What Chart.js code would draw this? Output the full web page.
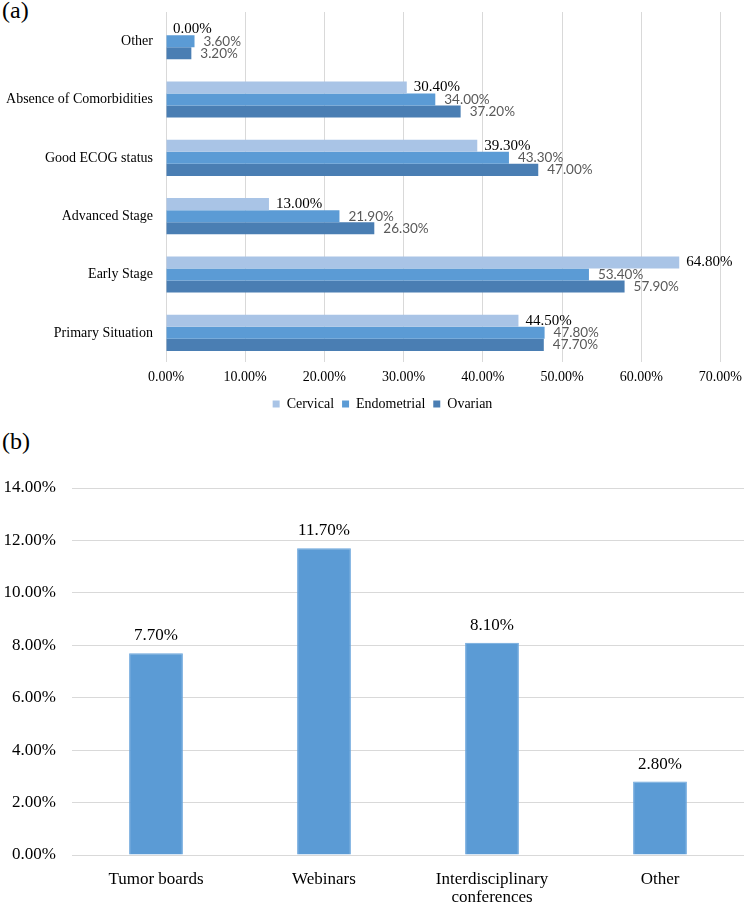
<!DOCTYPE html>
<html>
<head>
<meta charset="utf-8">
<script src="https://cdn.jsdelivr.net/npm/chart.js@4"></script>
<style>
  html, body { margin: 0; padding: 0; background: #fff; }
  body { width: 749px; height: 906px; position: relative; overflow: hidden; }
  .panel-tag { position: absolute; left: 2px; font-family: "Liberation Serif", "Times New Roman", serif; font-size: 24px; color: #000; }
  #boxA { position: absolute; left: 0; top: 0; width: 749px; height: 425px; }
  #boxB { position: absolute; left: 0; top: 430px; width: 749px; height: 476px; }
</style>
</head>
<body>
<div class="panel-tag" style="top:-3px">(a)</div>
<div class="panel-tag" style="top:428px">(b)</div>
<div id="boxA"><canvas id="chartA"></canvas></div>
<div id="boxB"><canvas id="chartB"></canvas></div>
<script>
// (a) 선택 기준 - 암종별 비율
const criteria = ['Other', 'Absence of Comorbidities', 'Good ECOG status', 'Advanced Stage', 'Early Stage', 'Primary Situation'];
const cervical = [0.0, 30.4, 39.3, 13.0, 64.8, 44.5];
const endometrial = [3.6, 34.0, 43.3, 21.9, 53.4, 47.8];
const ovarian = [3.2, 37.2, 47.0, 26.3, 57.9, 47.7];
const axisTicksA = [0, 10, 20, 30, 40, 50, 60, 70];

// (b) 교육 형태
const formats = ['Tumor boards', 'Webinars', ['Interdisciplinary', 'conferences'], 'Other'];
const formatValues = [7.7, 11.7, 8.1, 2.8];
const axisTicksB = [0, 2, 4, 6, 8, 10, 12, 14];

const serif = '"Liberation Serif", "Times New Roman", serif';
const sans = 'Lato, "Open Sans", sans-serif';
const gridColor = '#d9d9d9';

const pct = v => Number(v).toFixed(2) + '%';

// 막대 끝에 값 표시 (가로 막대)
const hLabels = {
    id: 'hLabels',
    afterDatasetsDraw(chart) {
        const ctx = chart.ctx;
        ctx.save();
        ctx.textBaseline = 'middle';
        ctx.textAlign = 'left';
        chart.data.datasets.forEach((ds, i) => {
            const meta = chart.getDatasetMeta(i);
            meta.data.forEach((bar, j) => {
                ctx.font = ds.labelFont;
                ctx.fillStyle = ds.labelColor;
                ctx.fillText(pct(ds.data[j]), bar.x + ds.labelGap, bar.y);
            });
        });
        ctx.restore();
    }
};

// 범례를 조금 오른쪽으로
const legendShift = {
    id: 'legendShift',
    afterLayout(chart) {
        if (chart.legend) {
            chart.legend.left += 19;
            chart.legend.right += 19;
        }
    }
};

// 막대 위에 값 표시 (세로 막대)
const vLabels = {
    id: 'vLabels',
    afterDatasetsDraw(chart) {
        const ctx = chart.ctx;
        ctx.save();
        ctx.textBaseline = 'bottom';
        ctx.textAlign = 'center';
        ctx.font = '17px ' + serif;
        ctx.fillStyle = '#000';
        const ds = chart.data.datasets[0];
        chart.getDatasetMeta(0).data.forEach((bar, j) => {
            ctx.fillText(pct(ds.data[j]), bar.x, bar.y - 9);
        });
        ctx.restore();
    }
};

new Chart(document.getElementById('chartA'), {
    type: 'bar',
    data: {
        labels: criteria,
        datasets: [
            { label: 'Cervical', data: cervical, backgroundColor: '#a9c4e6', labelFont: '15px ' + serif, labelColor: '#000', labelGap: 7 },
            { label: 'Endometrial', data: endometrial, backgroundColor: '#5b9bd5', labelFont: '13.5px ' + sans, labelColor: '#595959', labelGap: 9 },
            { label: 'Ovarian', data: ovarian, backgroundColor: '#4a7eb3', labelFont: '13.5px ' + sans, labelColor: '#595959', labelGap: 9 }
        ]
    },
    options: {
        indexAxis: 'y',
        responsive: true,
        maintainAspectRatio: false,
        animation: false,
        layout: { padding: { top: 12, right: 22, left: 0, bottom: 4 } },
        datasets: { bar: { categoryPercentage: 0.62, barPercentage: 1.0 } },
        scales: {
            x: {
                min: 0,
                max: 70,
                afterBuildTicks: s => { s.ticks = axisTicksA.map(v => ({ value: v })); },
                afterFit: s => { s.height = 27; },
                grid: { color: gridColor, drawTicks: false },
                border: { display: false },
                ticks: { padding: 7, color: '#000', font: { family: serif, size: 14 }, callback: v => pct(v), maxRotation: 0 }
            },
            y: {
                afterFit: s => { s.width = 166; s.paddingTop = 0; s.paddingBottom = 0; },
                grid: { display: false, drawTicks: false },
                border: { display: false },
                ticks: { padding: 13, color: '#000', font: { family: serif, size: 14 } }
            }
        },
        plugins: {
            legend: {
                position: 'bottom',
                labels: { boxWidth: 7, boxHeight: 7, padding: 8, color: '#000', font: { family: serif, size: 14 } }
            },
            tooltip: { enabled: false }
        }
    },
    plugins: [hLabels, legendShift]
});

new Chart(document.getElementById('chartB'), {
    type: 'bar',
    data: {
        labels: formats,
        datasets: [{ label: 'Education', data: formatValues, backgroundColor: '#5b9bd5', borderColor: '#6aa5dc', borderWidth: 1 }]
    },
    options: {
        responsive: true,
        maintainAspectRatio: false,
        animation: false,
        layout: { padding: { top: 58, right: 5, left: 0, bottom: 0 } },
        datasets: { bar: { categoryPercentage: 1.0, barPercentage: 0.32 } },
        scales: {
            x: {
                afterFit: s => { s.height = 51; },
                grid: { display: false, drawTicks: false },
                border: { display: false },
                ticks: { padding: 16, color: '#000', font: { family: serif, size: 17, lineHeight: 1.05 }, maxRotation: 0 }
            },
            y: {
                min: 0,
                max: 14,
                afterBuildTicks: s => { s.ticks = axisTicksB.map(v => ({ value: v })); },
                afterFit: s => { s.width = 72; },
                grid: { color: gridColor, drawTicks: false },
                border: { display: false },
                ticks: { padding: 16, color: '#000', font: { family: serif, size: 17 }, callback: v => pct(v) }
            }
        },
        plugins: {
            legend: { display: false },
            tooltip: { enabled: false }
        }
    },
    plugins: [vLabels]
});
</script>
</body>
</html>
